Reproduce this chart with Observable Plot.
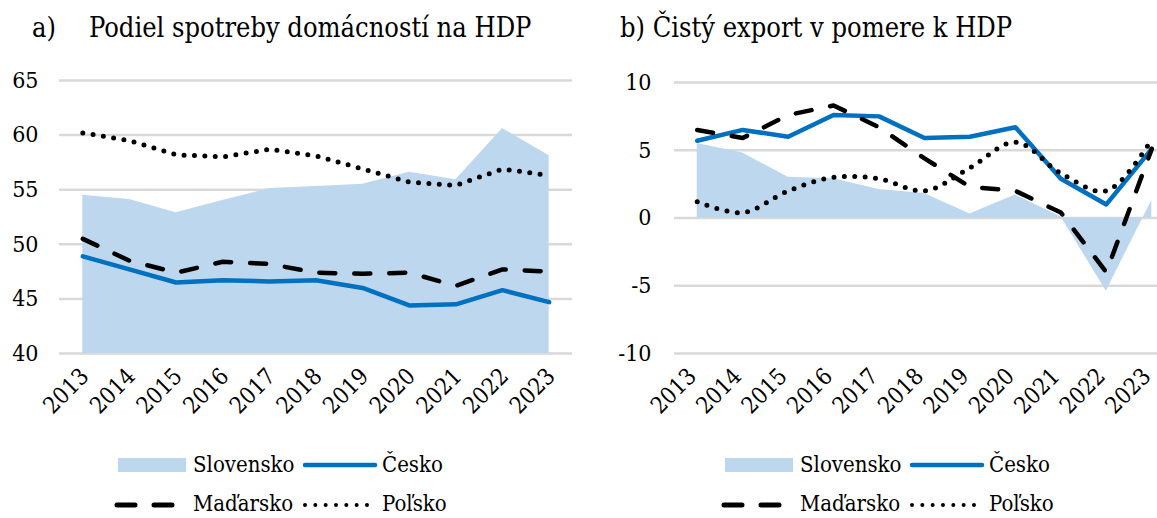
<!DOCTYPE html>
<html><head><meta charset="utf-8">
<script src="https://cdn.jsdelivr.net/npm/d3@7"></script>
<script src="https://cdn.jsdelivr.net/npm/@observablehq/plot@0.6"></script>
<style>
body{margin:0;background:#fff;overflow:hidden;width:1157px;height:518px;}
#wrap{position:relative;width:1157px;height:518px;overflow:hidden;font-family:"DejaVu Serif Condensed","DejaVu Serif",serif;font-stretch:semi-condensed;color:#000;}
#wrap svg text{font-stretch:semi-condensed;}
.title{position:absolute;font-size:27px;line-height:28px;white-space:pre;}
.chart{position:absolute;top:0;}
.lt{position:absolute;font-size:22px;line-height:16px;white-space:pre;}
.ls{position:absolute;}
</style></head><body><div id="wrap"></div>
<script>
const years = [2013, 2014, 2015, 2016, 2017, 2018, 2019, 2020, 2021, 2022, 2023];
const seriesNames = ["Slovensko", "Česko", "Maďarsko", "Poľsko"];

// a) Podiel spotreby domácností na HDP
const aSlovensko = [54.5, 54.1, 52.9, 54.0, 55.1, 55.3, 55.5, 56.6, 55.9, 60.6, 58.1];
const aCesko     = [48.9, 47.7, 46.5, 46.7, 46.6, 46.7, 46.0, 44.4, 44.5, 45.8, 44.7];
const aMadarsko  = [50.5, 48.5, 47.4, 48.4, 48.2, 47.4, 47.3, 47.4, 46.2, 47.7, 47.5];
const aPolsko    = [60.2, 59.5, 58.2, 58.0, 58.7, 58.1, 56.9, 55.7, 55.4, 56.9, 56.3];
const aTicks = [40, 45, 50, 55, 60, 65];

// b) Čistý export v pomere k HDP
const bSlovensko = [5.5, 4.8, 3.0, 2.9, 2.1, 1.8, 0.3, 1.7, 0.1, -5.4, 1.3];
const bCesko     = [5.7, 6.5, 6.0, 7.6, 7.5, 5.9, 6.0, 6.7, 2.9, 1.0, 5.1];
const bMadarsko  = [6.5, 5.9, 7.6, 8.3, 6.7, 4.4, 2.3, 2.0, 0.4, -4.0, 5.1];
const bPolsko    = [1.2, 0.4, 2.0, 3.0, 2.9, 2.0, 3.7, 5.6, 3.3, 2.0, 5.8];
const bTicks = [-10, -5, 0, 5, 10];

const titleA1 = "a)";
const titleA2 = "Podiel spotreby domácností na HDP";
const titleB = "b) Čistý export v pomere k HDP";

const C_AREA = "#bdd7ee", C_BLUE = "#0070c0", C_GRID = "#d9d9d9";
const FONT = "'DejaVu Serif Condensed', 'DejaVu Serif', serif";

function rows(vals) { return years.map((y, i) => ({year: y, v: vals[i]})); }

function makeChart(cfg) {
  const {sk, cz, hu, pl, ticks, domain, base, marginLeft, marginRight, marginTop, width, tickPad, smoothPl, labelDx} = cfg;
  return Plot.plot({
    width, height: 420,
    marginLeft, marginRight, marginTop, marginBottom: 67,
    style: {fontFamily: FONT, fontSize: "23px", color: "#000", background: "transparent", overflow: "visible"},
    x: {type: "linear", domain: [2012.5, 2023.5], label: null},
    y: {domain, label: null},
    marks: [
      Plot.ruleY(ticks, {stroke: C_GRID, strokeWidth: 2.5}),
      Plot.areaY(rows(sk), {x: "year", y1: base, y2: "v", fill: C_AREA}),
      Plot.lineY(rows(cz), {x: "year", y: "v", stroke: C_BLUE, strokeWidth: 4.5, strokeLinejoin: "round", strokeLinecap: "round"}),
      Plot.lineY(rows(hu), {x: "year", y: "v", stroke: "#000", strokeWidth: 4.5, strokeDasharray: "16,19", strokeLinecap: "round", strokeLinejoin: "round"}),
      Plot.lineY(rows(pl), {x: "year", y: "v", stroke: "#000", strokeWidth: 5, strokeDasharray: "0,10.4", strokeLinecap: "round", curve: smoothPl ? "catmull-rom" : "linear"}),
      Plot.axisX({ticks: years, tickFormat: d => String(d), tickRotate: -45, tickSize: 0, tickPadding: 19, dx: labelDx, fontSize: 23, label: null}),
      Plot.axisY({ticks, tickFormat: d => String(d), tickSize: 0, tickPadding: tickPad, fontSize: 23, label: null})
    ]
  });
}

const wrap = document.getElementById("wrap");

const chartA = makeChart({sk: aSlovensko, cz: aCesko, hu: aMadarsko, pl: aPolsko, ticks: aTicks, domain: [40, 65], base: 40, marginLeft: 59, marginRight: 8, marginTop: 80, width: 580, tickPad: 21, smoothPl: false, labelDx: 2});
chartA.classList.add("chart"); chartA.style.left = "0px";
wrap.appendChild(chartA);

const chartB = makeChart({sk: bSlovensko, cz: bCesko, hu: bMadarsko, pl: bPolsko, ticks: bTicks, domain: [-10, 10], base: 0, marginLeft: 94, marginRight: 6, marginTop: 82, width: 600, tickPad: 23, smoothPl: true, labelDx: -5});
chartB.classList.add("chart"); chartB.style.left = "580px";
wrap.appendChild(chartB);

function addText(cls, text, left, top) {
  const d = document.createElement("div");
  d.className = cls; d.textContent = text;
  d.style.left = left + "px"; d.style.top = top + "px";
  wrap.appendChild(d);
  return d;
}
addText("title", titleA1, 32, 14);
addText("title", titleA2, 89, 14);
addText("title", titleB, 620, 14);

const NS = "http://www.w3.org/2000/svg";
function swatch(left, top, w, h, build) {
  const s = document.createElementNS(NS, "svg");
  s.setAttribute("width", w); s.setAttribute("height", h);
  s.setAttribute("class", "ls");
  s.style.left = left + "px"; s.style.top = top + "px";
  s.innerHTML = build;
  wrap.appendChild(s);
}
function legend(ox) {
  const y1 = 465, y2 = 505;      // symbol centre lines
  const b1 = 473, b2 = 512;      // text baselines
  swatch(ox + 118, y1 - 7, 68, 14, `<rect x="0" y="0" width="68" height="14" fill="${C_AREA}"/>`);
  addText("lt", seriesNames[0], ox + 193, b1 - 15.6);
  swatch(ox + 300, y1 - 5, 80, 10, `<line x1="5" y1="5" x2="75" y2="5" stroke="${C_BLUE}" stroke-width="4.5" stroke-linecap="round"/>`);
  addText("lt", seriesNames[1], ox + 382, b1 - 15.6);
  swatch(ox + 112, y2 - 5, 66, 10, `<line x1="5" y1="5" x2="61" y2="5" stroke="#000" stroke-width="5" stroke-dasharray="18,19" stroke-linecap="round"/>`);
  addText("lt", seriesNames[2], ox + 193, b2 - 15.6);
  swatch(ox + 300, y2 - 5, 72, 10, `<line x1="5" y1="5" x2="67" y2="5" stroke="#000" stroke-width="4" stroke-dasharray="0,10.33" stroke-linecap="round"/>`);
  addText("lt", seriesNames[3], ox + 382, b2 - 15.6);
}
legend(0);
legend(607);
</script>
</body></html>
